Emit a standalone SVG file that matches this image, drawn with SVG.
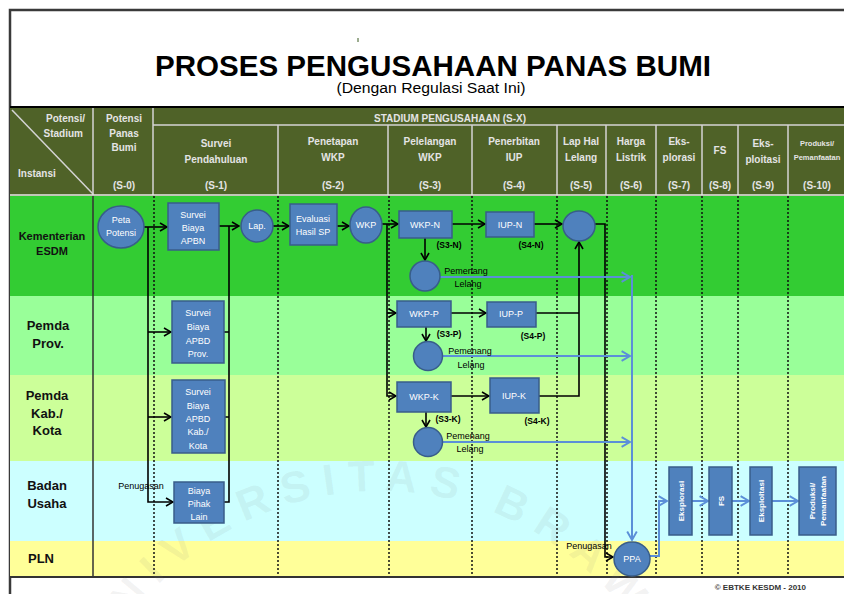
<svg xmlns="http://www.w3.org/2000/svg" width="844" height="594" viewBox="0 0 844 594">
<defs>
<style>
.hd{font-family:"Liberation Sans",Arial,sans-serif;font-weight:bold;font-size:10px;fill:#e4e4e4;text-anchor:middle}
.ln{font-family:"Liberation Sans",Arial,sans-serif;font-weight:bold;fill:#111;text-anchor:middle}
.bx{fill:#4F81BD;stroke:#385D8A;stroke-width:1.5}
.bt{font-family:"Liberation Sans",Arial,sans-serif;font-size:9px;fill:#fff;text-anchor:middle}
.vt{font-family:"Liberation Sans",Arial,sans-serif;font-size:8px;font-weight:bold;fill:#fff;text-anchor:middle}
.lb{font-family:"Liberation Sans",Arial,sans-serif;font-size:9px;fill:#000;text-anchor:middle}
.sl{font-family:"Liberation Sans",Arial,sans-serif;font-size:8.5px;font-weight:bold;fill:#000;text-anchor:middle}
.k{fill:none;stroke:#000;stroke-width:1.6}
.b{fill:none;stroke:#5B8FD8;stroke-width:2}
.dot{stroke:#111;stroke-width:1.5;stroke-dasharray:2 2}
.hl{stroke:#d4d4d4;stroke-width:1.5}
</style>
<marker id="ak" markerUnits="userSpaceOnUse" markerWidth="10" markerHeight="10" viewBox="0 0 10 10" refX="9" refY="5" orient="auto"><path d="M2,1 L9,5 L2,9" fill="none" stroke="#000" stroke-width="1.6"/></marker>
<marker id="ab" markerUnits="userSpaceOnUse" markerWidth="12" markerHeight="12" viewBox="0 0 10 10" refX="9" refY="5" orient="auto"><path d="M2,1 L9,5 L2,9" fill="none" stroke="#5B8FD8" stroke-width="1.6"/></marker>
<path id="wm" d="M71,800 A309,309 0 0 1 689,800"/>
</defs>
<rect width="844" height="594" fill="#fff"/>
<!-- frame & title -->
<rect x="10" y="10" width="850" height="600" fill="none" stroke="#3a3a3a" stroke-width="2.5"/>
<line x1="358" y1="38" x2="358" y2="42" stroke="#3a5a20" stroke-width="1"/>
<text x="433" y="76" font-family="Liberation Sans, Arial, sans-serif" font-weight="bold" font-size="29" text-anchor="middle" textLength="556" lengthAdjust="spacingAndGlyphs" fill="#000">PROSES PENGUSAHAAN PANAS BUMI</text>
<text x="431" y="93" font-family="Liberation Sans, Arial, sans-serif" font-size="14" text-anchor="middle" textLength="189" lengthAdjust="spacingAndGlyphs" fill="#000">(Dengan Regulasi Saat Ini)</text>
<!-- header -->
<g id="header">
<rect x="10" y="107" width="834" height="89" fill="#4F6228"/>
<line x1="10" y1="107" x2="844" y2="107" stroke="#000" stroke-width="2"/>
<line class="hl" x1="153" y1="125" x2="844" y2="125"/>
<line class="hl" x1="93" y1="108" x2="93" y2="195"/>
<line class="hl" x1="153" y1="108" x2="153" y2="195"/>
<line class="hl" x1="278" y1="125" x2="278" y2="195"/>
<line class="hl" x1="388" y1="125" x2="388" y2="195"/>
<line class="hl" x1="472" y1="125" x2="472" y2="195"/>
<line class="hl" x1="557" y1="125" x2="557" y2="195"/>
<line class="hl" x1="606" y1="125" x2="606" y2="195"/>
<line class="hl" x1="656" y1="125" x2="656" y2="195"/>
<line class="hl" x1="702" y1="125" x2="702" y2="195"/>
<line class="hl" x1="738" y1="125" x2="738" y2="195"/>
<line class="hl" x1="788" y1="125" x2="788" y2="195"/>
<line class="hl" x1="12" y1="110" x2="93" y2="194"/>
<line x1="10" y1="195" x2="844" y2="195" stroke="#e8e8e8" stroke-width="1.5"/>
<text class="hd" x="85" y="122" style="text-anchor:end">Potensi/</text>
<text class="hd" x="83" y="137" style="text-anchor:end">Stadium</text>
<text class="hd" x="18" y="177" style="text-anchor:start">Instansi</text>
<text class="hd" x="124" y="122">Potensi</text>
<text class="hd" x="124" y="137">Panas</text>
<text class="hd" x="124" y="151">Bumi</text>
<text class="hd" x="124" y="189">(S-0)</text>
<text class="hd" x="450" y="122">STADIUM PENGUSAHAAN (S-X)</text>
<text class="hd" x="216" y="147">Survei</text>
<text class="hd" x="216" y="163">Pendahuluan</text>
<text class="hd" x="216" y="189">(S-1)</text>
<text class="hd" x="333" y="145">Penetapan</text>
<text class="hd" x="333" y="161">WKP</text>
<text class="hd" x="333" y="189">(S-2)</text>
<text class="hd" x="430" y="145">Pelelangan</text>
<text class="hd" x="430" y="161">WKP</text>
<text class="hd" x="430" y="189">(S-3)</text>
<text class="hd" x="514" y="145">Penerbitan</text>
<text class="hd" x="514" y="161">IUP</text>
<text class="hd" x="514" y="189">(S-4)</text>
<text class="hd" x="581" y="145">Lap Hal</text>
<text class="hd" x="581" y="161">Lelang</text>
<text class="hd" x="581" y="189">(S-5)</text>
<text class="hd" x="631" y="145">Harga</text>
<text class="hd" x="631" y="161">Listrik</text>
<text class="hd" x="631" y="189">(S-6)</text>
<text class="hd" x="679" y="145">Eks-</text>
<text class="hd" x="679" y="161">plorasi</text>
<text class="hd" x="679" y="189">(S-7)</text>
<text class="hd" x="720" y="154">FS</text>
<text class="hd" x="720" y="189">(S-8)</text>
<text class="hd" x="763" y="147">Eks-</text>
<text class="hd" x="763" y="163">ploitasi</text>
<text class="hd" x="763" y="189">(S-9)</text>
<text class="hd" x="817" y="146" style="font-size:7.5px">Produksi/</text>
<text class="hd" x="817" y="160" style="font-size:7.5px">Pemanfaatan</text>
<text class="hd" x="817" y="189">(S-10)</text>
</g>
<!-- lanes -->
<g id="lanes">
<rect id="lane-esdm" x="10" y="196" width="834" height="100" fill="#33CC33"/>
<rect id="lane-prov" x="10" y="296" width="834" height="79" fill="#99FF99"/>
<rect id="lane-kab" x="10" y="375" width="834" height="86" fill="#CCFF99"/>
<rect id="lane-bu" x="10" y="461" width="834" height="80" fill="#CCFFFF"/>
<rect id="lane-pln" x="10" y="541" width="834" height="36" fill="#FFFF99"/>
<line x1="10" y1="577" x2="844" y2="577" stroke="#333" stroke-width="2"/>
<line x1="93" y1="196" x2="93" y2="576" stroke="#333" stroke-width="1.5"/>
<g class="dot">
<line x1="154" y1="196" x2="154" y2="576"/>
<line x1="278" y1="196" x2="278" y2="576"/>
<line x1="389" y1="196" x2="389" y2="576"/>
<line x1="472" y1="196" x2="472" y2="576"/>
<line x1="557" y1="196" x2="557" y2="576"/>
<line x1="607" y1="196" x2="607" y2="576"/>
<line x1="656" y1="196" x2="656" y2="576"/>
<line x1="702" y1="196" x2="702" y2="576"/>
<line x1="738" y1="196" x2="738" y2="576"/>
<line x1="788" y1="196" x2="788" y2="576"/>
</g>
<text class="ln" font-size="11" x="52" y="240">Kementerian</text>
<text class="ln" font-size="11" x="52" y="255">ESDM</text>
<text class="ln" font-size="13" x="48" y="330">Pemda</text>
<text class="ln" font-size="13" x="48" y="348">Prov.</text>
<text class="ln" font-size="13" x="47" y="400">Pemda</text>
<text class="ln" font-size="13" x="47" y="418">Kab./</text>
<text class="ln" font-size="13" x="47" y="435">Kota</text>
<text class="ln" font-size="13" x="47" y="490">Badan</text>
<text class="ln" font-size="13" x="47" y="508">Usaha</text>
<text class="ln" font-size="13" x="41" y="563">PLN</text>
</g>
<!-- watermark -->
<text font-family="Liberation Sans, Arial, sans-serif" font-weight="bold" font-size="44" fill="#808080" fill-opacity="0.1" letter-spacing="12"><textPath href="#wm" startOffset="150">UNIVERSITAS BRAWIJAYA</textPath></text>
<!-- connectors -->
<g id="connectors">
<path class="k" d="M144,227 H167" marker-end="url(#ak)"/>
<path class="k" d="M148,227 V502 H173" marker-end="url(#ak)"/>
<path class="k" d="M148,332 H171" marker-end="url(#ak)"/>
<path class="k" d="M148,417 H171" marker-end="url(#ak)"/>
<path class="k" d="M219,226 H239" marker-end="url(#ak)"/>
<path class="k" d="M224,332 H229 M225,417 H229 M224,502 H229 V226"/>
<path class="k" d="M273,226 H289" marker-end="url(#ak)"/>
<path class="k" d="M337,226 H349" marker-end="url(#ak)"/>
<path class="k" d="M382,224 H398" marker-end="url(#ak)"/>
<path class="k" d="M387,224 V396 H396" marker-end="url(#ak)"/>
<path class="k" d="M387,313 H396" marker-end="url(#ak)"/>
<path class="k" d="M452,224 H485" marker-end="url(#ak)"/>
<path class="k" d="M534,224 H562" marker-end="url(#ak)"/>
<path class="k" d="M425,238 V260" marker-end="url(#ak)"/>
<path class="k" d="M451,313 H486" marker-end="url(#ak)"/>
<path class="k" d="M426,327 V341" marker-end="url(#ak)"/>
<path class="k" d="M451,396 H489" marker-end="url(#ak)"/>
<path class="k" d="M426,412 V427" marker-end="url(#ak)"/>
<path class="k" d="M536,313 H579"/>
<path class="k" d="M539,396 H579 V242" marker-end="url(#ak)"/>
<path class="k" d="M595,224 H605 V557 H613" marker-end="url(#ak)"/>
<path class="b" d="M440,277 H630" marker-end="url(#ab)"/>
<path class="b" d="M443,356 H630" marker-end="url(#ab)"/>
<path class="b" d="M443,442 H630" marker-end="url(#ab)"/>
<path class="b" d="M632,275 V540" marker-end="url(#ab)"/>
<path class="b" d="M650,556 H659 V501 H667" marker-end="url(#ab)"/>
<path class="b" d="M692,501 H708" marker-end="url(#ab)"/>
<path class="b" d="M732,501 H749" marker-end="url(#ab)"/>
<path class="b" d="M772,501 H798" marker-end="url(#ab)"/>
<text class="lb" x="141" y="489" font-size="8.5">Penugasan</text>
<text class="lb" x="589" y="549" font-size="8.5">Penugasan</text>
</g>
<!-- nodes -->
<g id="peta-potensi"><ellipse class="bx" cx="121" cy="227" rx="23" ry="21"/><text class="bt" x="121" y="223">Peta</text><text class="bt" x="121" y="236">Potensi</text></g>
<g id="survei-apbn"><rect class="bx" x="168" y="203" width="51" height="47"/><text class="bt" x="193" y="218">Survei</text><text class="bt" x="193" y="231">Biaya</text><text class="bt" x="193" y="244">APBN</text></g>
<g id="lap"><ellipse class="bx" cx="257" cy="226" rx="16" ry="16"/><text class="bt" x="257" y="229">Lap.</text></g>
<g id="evaluasi"><rect class="bx" x="290" y="204" width="47" height="41"/><text class="bt" x="313" y="222">Evaluasi</text><text class="bt" x="313" y="235">Hasil SP</text></g>
<g id="wkp"><ellipse class="bx" cx="366" cy="225" rx="16" ry="18"/><text class="bt" x="366" y="228">WKP</text></g>
<g id="survei-prov"><rect class="bx" x="172" y="301" width="52" height="62"/><text class="bt" x="198" y="316">Survei</text><text class="bt" x="198" y="330">Biaya</text><text class="bt" x="198" y="344">APBD</text><text class="bt" x="198" y="357">Prov.</text></g>
<g id="survei-kab"><rect class="bx" x="172" y="380" width="53" height="73"/><text class="bt" x="198" y="395">Survei</text><text class="bt" x="198" y="409">Biaya</text><text class="bt" x="198" y="422">APBD</text><text class="bt" x="198" y="435">Kab./</text><text class="bt" x="198" y="449">Kota</text></g>
<g id="biaya-pihak"><rect class="bx" x="174" y="482" width="50" height="41"/><text class="bt" x="199" y="494">Biaya</text><text class="bt" x="199" y="507">Pihak</text><text class="bt" x="199" y="520">Lain</text></g>
<g id="wkp-n"><rect class="bx" x="399" y="211" width="53" height="27"/><text class="bt" x="425" y="228">WKP-N</text><text class="sl" x="449" y="248">(S3-N)</text></g>
<g id="iup-n"><rect class="bx" x="486" y="212" width="48" height="25"/><text class="bt" x="510" y="228">IUP-N</text><text class="sl" x="531" y="248">(S4-N)</text></g>
<g id="lap-hasil"><ellipse class="bx" cx="579" cy="226" rx="16" ry="15"/></g>
<g id="pemenang-n"><circle class="bx" cx="425" cy="276" r="15"/><text class="lb" x="466" y="274">Pemenang</text><text class="lb" x="468" y="287">Lelang</text></g>
<g id="wkp-p"><rect class="bx" x="397" y="301" width="54" height="26"/><text class="bt" x="424" y="317">WKP-P</text><text class="sl" x="449" y="337">(S3-P)</text></g>
<g id="iup-p"><rect class="bx" x="487" y="302" width="49" height="25"/><text class="bt" x="511" y="317">IUP-P</text><text class="sl" x="533" y="339">(S4-P)</text></g>
<g id="pemenang-p"><circle class="bx" cx="428" cy="356" r="14.5"/><text class="lb" x="470" y="354">Pemenang</text><text class="lb" x="471" y="368">Lelang</text></g>
<g id="wkp-k"><rect class="bx" x="397" y="382" width="54" height="30"/><text class="bt" x="424" y="400">WKP-K</text><text class="sl" x="448" y="422">(S3-K)</text></g>
<g id="iup-k"><rect class="bx" x="490" y="378" width="49" height="35"/><text class="bt" x="514" y="399">IUP-K</text><text class="sl" x="537" y="424">(S4-K)</text></g>
<g id="pemenang-k"><circle class="bx" cx="428" cy="442" r="14.5"/><text class="lb" x="468" y="439">Pemenang</text><text class="lb" x="470" y="452">Lelang</text></g>
<g id="ppa"><ellipse class="bx" cx="632" cy="559" rx="18" ry="17"/><text class="bt" x="632" y="562">PPA</text></g>
<g id="eksplorasi"><rect class="bx" x="669" y="467" width="23" height="68"/><text class="vt" transform="translate(680.5,501) rotate(-90)" x="0" y="3">Eksplorasi</text></g>
<g id="fs"><rect class="bx" x="709" y="467" width="23" height="68"/><text class="vt" transform="translate(720.5,501) rotate(-90)" x="0" y="3">FS</text></g>
<g id="eksploitasi"><rect class="bx" x="750" y="467" width="22" height="68"/><text class="vt" transform="translate(761,501) rotate(-90)" x="0" y="3">Eksploitasi</text></g>
<g id="produksi"><rect class="bx" x="799" y="467" width="37" height="68"/><text class="vt" transform="translate(817.5,501) rotate(-90)" x="0" y="-3">Produksi/</text><text class="vt" transform="translate(817.5,501) rotate(-90)" x="0" y="8">Pemanfaatan</text></g>
<text x="806" y="590" font-family="Liberation Sans, Arial, sans-serif" font-weight="bold" font-size="8" fill="#333" text-anchor="end">© EBTKE KESDM - 2010</text>
</svg>
